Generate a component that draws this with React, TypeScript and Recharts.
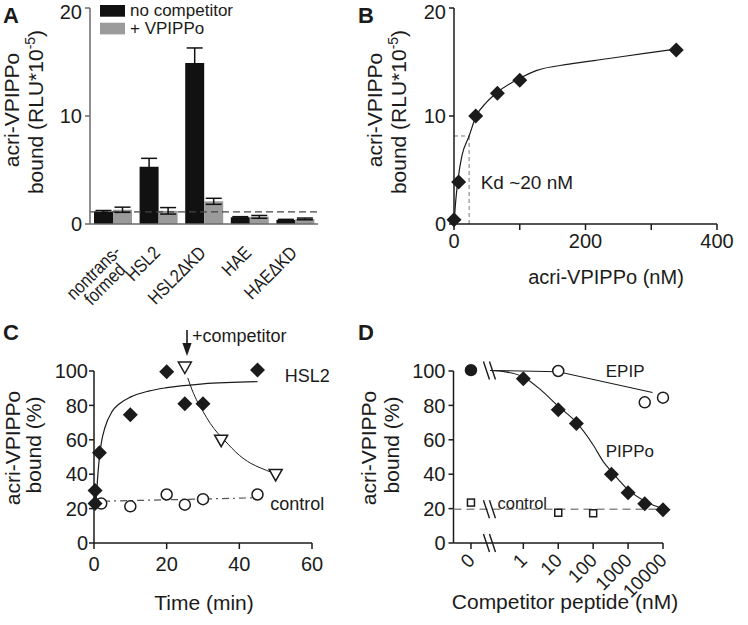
import React from "react";
import {
  Bar,
  BarChart,
  ComposedChart,
  ErrorBar,
  Line,
  ReferenceDot,
  ReferenceLine,
  Scatter,
  XAxis,
  YAxis,
} from "recharts";

const FONT = "'Liberation Sans', Arial, Helvetica, sans-serif";
const INK = "#1b1b1b";
const GREY_AXIS = "#6a6a6a";

// A: acri-VPIPPo bound per cell line (RLU x 10^-5)
const cellLines = ["nontrans-\nformed", "HSL2", "HSL2ΔKD", "HAE", "HAEΔKD"];
const noCompetitor = [1.15, 5.3, 14.9, 0.62, 0.38];
const noCompetitorErr = [0.1, 0.78, 1.4, 0.06, 0.05];
const withVpippo = [1.32, 1.22, 2.1, 0.66, 0.47];
const withVpippoErr = [0.24, 0.3, 0.28, 0.13, 0.08];
const aBackground = 1.12;
const aYTicks = [0, 10, 20];

// B: saturation binding
const bConc = [0, 7, 33, 66, 100, 338];
const bBound = [0.4, 3.9, 10, 12.1, 13.3, 16.1];
const bFitConc = [0, 3, 6.5, 12, 23, 33, 50, 66, 100, 125, 175, 233, 290, 338];
const bFitBound = [0, 2.4, 4.3, 6.3, 8.15, 9.9, 11.3, 12.2, 13.5, 14.2, 14.8, 15.3, 15.8, 16.2];
const bKdConc = 23;
const bKdBound = 8.15;
const bXTicks = [0, 100, 200, 300, 400];
const bXTickLabels = ["0", "", "200", "", "400"];
const bYTicks = [0, 10, 20];

// C: time course (% bound)
const cHslTime = [0.3, 0.3, 1.5, 10, 20, 25, 30, 45];
const cHslBound = [23, 30.5, 52.5, 74.6, 99.6, 81, 81, 100.6];
const cHslFitTime = [0.5, 1, 1.5, 2, 3, 5, 7, 10, 15, 20, 30, 45];
const cHslFitBound = [22, 38, 50, 58, 67, 76.5, 81, 84.8, 88.3, 90.3, 92.5, 93.8];
const cChaseTime = [25, 35, 50];
const cChaseBound = [102, 59.5, 39.6];
const cChaseFitTime = [25.8, 27, 28.5, 30, 32, 34, 36, 38, 40, 43, 46, 49];
const cChaseFitBound = [96, 89, 82, 76.5, 69.5, 64, 59.5, 55, 51, 46.5, 43.5, 41];
const cCtrlTime = [2, 10, 20, 25, 30, 45];
const cCtrlBound = [22.9, 21.3, 28.2, 22.3, 25.5, 28.2];
const cCtrlTrendTime = [2.5, 45];
const cCtrlTrendBound = [24.3, 26.3];
const cXTicks = [0, 20, 40, 60];
const pctTicks = [0, 20, 40, 60, 80, 100];

// D: competition (log concentration axis, 0 drawn left of the break)
const dZeroPos = -1.5;
const dBreakPos = -0.97;
const dTickPos = [-1.5, 0, 1, 2, 3, 4];
const dTickLabels = ["0", "1", "10", "100", "1000", "10000"];
const dNoCompBound = 100.5;
const dPippoConc = [1, 10, 33, 333, 1000, 3000, 10000];
const dPippoBound = [95.5, 77.5, 69.5, 40, 29.2, 22.8, 19.4];
const dPippoFitLog = [-0.95, -0.5, 0, 0.5, 1, 1.5, 2, 2.3, 2.55, 3, 3.5, 4];
const dPippoFitBound = [100.3, 99.5, 96.5, 89, 79.5, 70.5, 57, 47, 41, 31, 24, 20];
const dEpipConc = [10, 3000, 10000];
const dEpipBound = [100, 81.8, 84.5];
const dEpipFitLog = [-0.95, 1, 3.7];
const dEpipFitBound = [100.3, 99.6, 87.5];
const dCtrlConc = [0, 10, 100];
const dCtrlBound = [23.5, 17.6, 17.3];
const dCtrlLevel = 19.6;

const pts = (xs: number[], ys: number[]) => xs.map((x, i) => ({ x, y: ys[i] }));
const dPos = (c: number) => (c === 0 ? dZeroPos : Math.log10(c));

const tickText = { fill: INK, fontSize: 20, fontFamily: FONT };

const Diamond = (p: any) => {
  const r = 7.5;
  return (
    <polygon
      points={`${p.cx},${p.cy - r} ${p.cx + r},${p.cy} ${p.cx},${p.cy + r} ${p.cx - r},${p.cy}`}
      fill={INK}
    />
  );
};
const OpenCircle = (p: any) => (
  <circle cx={p.cx} cy={p.cy} r={5.5} fill="#fff" stroke={INK} strokeWidth={1.5} />
);
const FilledCircle = (p: any) => <circle cx={p.cx} cy={p.cy} r={6.2} fill={INK} />;
const OpenSquare = (p: any) => (
  <rect x={p.cx - 3.5} y={p.cy - 3.5} width={7} height={7} fill="#fff" stroke={INK} strokeWidth={1.5} />
);
const TriangleDown = (p: any) => (
  <polygon
    points={`${p.cx - 6.5},${p.cy - 5.5} ${p.cx + 6.5},${p.cy - 5.5} ${p.cx},${p.cy + 6}`}
    fill="#fff"
    stroke={INK}
    strokeWidth={1.5}
  />
);
const BreakMark = (p: any) => (
  <g stroke={INK} strokeWidth={1.4}>
    <line x1={p.cx - 6} y1={p.cy - 9} x2={p.cx} y2={p.cy + 9} />
    <line x1={p.cx} y1={p.cy - 9} x2={p.cx + 6} y2={p.cy + 9} />
  </g>
);
const note = (text: string, size: number) => (p: any) => (
  <text x={p.cx} y={p.cy} fontSize={size} fontFamily={FONT} fill={INK}>
    {text}
  </text>
);
const CompetitorArrow = (p: any) => (
  <g>
    <line x1={p.cx} y1={p.cy - 25} x2={p.cx} y2={p.cy - 10} stroke={INK} strokeWidth={1.6} />
    <polygon points={`${p.cx - 4.6},${p.cy - 12} ${p.cx + 4.6},${p.cy - 12} ${p.cx},${p.cy + 1}`} fill={INK} />
    <text x={p.cx + 5} y={p.cy - 13} fontSize={18} fontFamily={FONT} fill={INK}>
      +competitor
    </text>
  </g>
);

// rotated, slightly narrowed category labels; "formed" sits under "nontrans-"
const CellTick = (p: any) => {
  const lines = String(p.payload.value).split("\n");
  const x0 = p.x + (lines.length > 1 ? 9 : 3);
  const y0 = p.y + (lines.length > 1 ? 29 : 30);
  return (
    <g>
      {lines.map((l, i) => (
        <text
          key={i}
          transform={`translate(${x0 + i * 5},${y0 + i * 18}) rotate(-45) scale(0.86,1)`}
          textAnchor="end"
          fontSize={18.6}
          fontFamily={FONT}
          fill={INK}
        >
          {l}
        </text>
      ))}
    </g>
  );
};

const ConcTick = (p: any) => (
  <text
    transform={`translate(${p.x + 5},${p.y + 12.5}) rotate(-45)`}
    textAnchor="end"
    fontSize={19}
    fontFamily={FONT}
    fill={INK}
  >
    {dTickLabels[dTickPos.indexOf(p.payload.value)]}
  </text>
);

function PanelA() {
  const rows = cellLines.map((name, i) => ({
    name,
    noComp: noCompetitor[i],
    noCompErr: noCompetitorErr[i],
    vpippo: withVpippo[i],
    vpippoErr: withVpippoErr[i],
  }));
  return (
    <BarChart
      width={374}
      height={326}
      data={rows}
      margin={{ top: 8, right: 56, bottom: 0, left: 0 }}
      barCategoryGap={4}
      barGap={0}
    >
      <XAxis
        dataKey="name"
        height={102}
        interval={0}
        tick={<CellTick />}
        tickLine={false}
        tickSize={0}
        tickMargin={0}
        stroke={GREY_AXIS}
        axisLine={{ strokeWidth: 1.5 }}
      />
      <YAxis
        width={90}
        domain={[0, 20]}
        ticks={aYTicks}
        tick={tickText}
        tickSize={5}
        tickMargin={3}
        stroke={GREY_AXIS}
        axisLine={{ strokeWidth: 1.5 }}
        tickLine={{ strokeWidth: 1.5 }}
      />
      <ReferenceLine y={aBackground} stroke="#444" strokeDasharray="7 4" strokeWidth={1.2} />
      <Bar dataKey="noComp" fill="#111" isAnimationActive={false}>
        <ErrorBar dataKey="noCompErr" width={8} stroke="#111" strokeWidth={1.5} />
      </Bar>
      <Bar dataKey="vpippo" fill="#9b9b9b" isAnimationActive={false}>
        <ErrorBar dataKey="vpippoErr" width={8} stroke="#111" strokeWidth={1.5} />
      </Bar>
    </BarChart>
  );
}

function PanelB() {
  return (
    <ComposedChart width={374} height={310} margin={{ top: 8, right: 31, bottom: 0, left: 0 }}>
      <XAxis
        type="number"
        dataKey="x"
        domain={[0, 400]}
        ticks={bXTicks}
        tickFormatter={(v: number) => bXTickLabels[bXTicks.indexOf(v)]}
        height={86}
        tick={tickText}
        tickSize={6}
        tickMargin={4}
        stroke={INK}
        axisLine={{ strokeWidth: 1.5 }}
        tickLine={{ strokeWidth: 1.5 }}
      />
      <YAxis
        type="number"
        dataKey="y"
        domain={[0, 20]}
        ticks={bYTicks}
        width={80}
        tick={tickText}
        tickSize={5}
        tickMargin={3}
        stroke={INK}
        axisLine={{ strokeWidth: 1.5 }}
        tickLine={{ strokeWidth: 1.5 }}
      />
      <ReferenceLine
        segment={[{ x: 0, y: bKdBound }, { x: bKdConc, y: bKdBound }]}
        stroke="#777"
        strokeDasharray="4 3"
      />
      <ReferenceLine
        segment={[{ x: bKdConc, y: 0 }, { x: bKdConc, y: bKdBound }]}
        stroke="#777"
        strokeDasharray="4 3"
      />
      <Line
        data={pts(bFitConc, bFitBound)}
        dataKey="y"
        type="monotone"
        dot={false}
        stroke={INK}
        strokeWidth={1.2}
        isAnimationActive={false}
      />
      <Scatter data={pts(bConc, bBound)} shape={Diamond} isAnimationActive={false} />
      <ReferenceDot x={40.6} y={3.2} r={0} shape={note("Kd ~20 nM", 19)} />
    </ComposedChart>
  );
}

function PanelC() {
  return (
    <ComposedChart width={374} height={315} margin={{ top: 43.8, right: 62, bottom: 0, left: 0 }}>
      <XAxis
        type="number"
        dataKey="x"
        domain={[0, 60]}
        ticks={cXTicks}
        height={82}
        tick={tickText}
        tickSize={6}
        tickMargin={8}
        stroke={INK}
        axisLine={{ strokeWidth: 1.5 }}
        tickLine={{ strokeWidth: 1.5 }}
      />
      <YAxis
        type="number"
        dataKey="y"
        domain={[0, 110]}
        ticks={pctTicks}
        width={94}
        tick={tickText}
        tickSize={5}
        tickMargin={1}
        stroke={INK}
        axisLine={false}
        tickLine={{ strokeWidth: 1.5 }}
      />
      <ReferenceLine segment={[{ x: 0, y: 0 }, { x: 0, y: 100 }]} stroke={INK} strokeWidth={1.5} />
      <Line
        data={pts(cCtrlTrendTime, cCtrlTrendBound)}
        dataKey="y"
        dot={false}
        stroke="#555"
        strokeWidth={1.2}
        strokeDasharray="7 4 2 4"
        isAnimationActive={false}
      />
      <Line
        data={pts(cHslFitTime, cHslFitBound)}
        dataKey="y"
        type="monotone"
        dot={false}
        stroke={INK}
        strokeWidth={1.2}
        isAnimationActive={false}
      />
      <Line
        data={pts(cChaseFitTime, cChaseFitBound)}
        dataKey="y"
        type="monotone"
        dot={false}
        stroke={INK}
        strokeWidth={1}
        isAnimationActive={false}
      />
      <Scatter data={pts(cCtrlTime, cCtrlBound)} shape={OpenCircle} isAnimationActive={false} />
      <Scatter data={pts(cHslTime, cHslBound)} shape={Diamond} isAnimationActive={false} />
      <Scatter data={pts(cChaseTime, cChaseBound)} shape={TriangleDown} isAnimationActive={false} />
      <ReferenceDot x={25.6} y={109.3} r={0} shape={CompetitorArrow} />
      <ReferenceDot x={52.5} y={93.8} r={0} shape={note("HSL2", 18)} />
      <ReferenceDot x={48.5} y={19.2} r={0} shape={note("control", 18)} />
    </ComposedChart>
  );
}

function PanelD() {
  const pippo = dPippoConc.map((c, i) => ({ x: dPos(c), y: dPippoBound[i] }));
  const epip = dEpipConc.map((c, i) => ({ x: dPos(c), y: dEpipBound[i] }));
  const ctrl = dCtrlConc.map((c, i) => ({ x: dPos(c), y: dCtrlBound[i] }));
  return (
    <ComposedChart width={374} height={315} margin={{ top: 43.8, right: 85, bottom: 0, left: 0 }}>
      <XAxis
        type="number"
        dataKey="x"
        domain={[-2, 4]}
        ticks={dTickPos}
        height={82}
        tick={<ConcTick />}
        tickSize={6}
        tickMargin={0}
        stroke={INK}
        axisLine={{ strokeWidth: 1.5 }}
        tickLine={{ strokeWidth: 1.5 }}
      />
      <YAxis
        type="number"
        dataKey="y"
        domain={[0, 110]}
        ticks={pctTicks}
        width={79.5}
        tick={tickText}
        tickSize={5}
        tickMargin={3}
        stroke={INK}
        axisLine={false}
        tickLine={{ strokeWidth: 1.5 }}
      />
      <ReferenceLine segment={[{ x: -2, y: 0 }, { x: -2, y: 100 }]} stroke={INK} strokeWidth={1.5} />
      <ReferenceLine y={dCtrlLevel} stroke="#8a8a8a" strokeWidth={1.5} strokeDasharray="8 5" />
      <Line
        data={pts(dEpipFitLog, dEpipFitBound)}
        dataKey="y"
        dot={false}
        stroke={INK}
        strokeWidth={1.1}
        isAnimationActive={false}
      />
      <Line
        data={pts(dPippoFitLog, dPippoFitBound)}
        dataKey="y"
        type="monotone"
        dot={false}
        stroke={INK}
        strokeWidth={1.1}
        isAnimationActive={false}
      />
      <Scatter data={ctrl} shape={OpenSquare} isAnimationActive={false} />
      <Scatter data={epip} shape={OpenCircle} isAnimationActive={false} />
      <Scatter data={pippo} shape={Diamond} isAnimationActive={false} />
      <Scatter data={[{ x: dZeroPos, y: dNoCompBound }]} shape={FilledCircle} isAnimationActive={false} />
      <ReferenceDot x={dBreakPos} y={100.3} r={0} shape={BreakMark} />
      <ReferenceDot x={dBreakPos} y={dCtrlLevel} r={0} shape={BreakMark} />
      <ReferenceDot x={dBreakPos} y={0} r={0} shape={BreakMark} />
      <ReferenceDot x={2.36} y={96.7} r={0} shape={note("EPIP", 17)} />
      <ReferenceDot x={2.36} y={50.2} r={0} shape={note("PIPPo", 17)} />
      <ReferenceDot x={-0.74} y={19.8} r={0} shape={note("control", 16.5)} />
    </ComposedChart>
  );
}

const VTitle = ({ x, y, children }: { x: number; y: number; children: React.ReactNode }) => (
  <text
    transform={`translate(${x},${y}) rotate(-90)`}
    textAnchor="middle"
    fontSize={21}
    fontFamily={FONT}
    fill={INK}
  >
    {children}
  </text>
);

const RluTitle = ({ x, y }: { x: number; y: number }) => (
  <VTitle x={x} y={y}>
    bound (RLU*10
    <tspan dy={-8} fontSize={14}>
      -5
    </tspan>
    <tspan dy={8}>)</tspan>
  </VTitle>
);

export default function App() {
  const letter = { fontSize: 22, fontWeight: 700, fontFamily: FONT, fill: INK };
  return (
    <div style={{ position: "absolute", left: 0, top: 0, width: 748, height: 625, background: "#fff" }}>
      <div style={{ position: "absolute", left: 0, top: 310 }}>
        <PanelC />
      </div>
      <div style={{ position: "absolute", left: 374, top: 310 }}>
        <PanelD />
      </div>
      <div style={{ position: "absolute", left: 0, top: 0 }}>
        <PanelA />
      </div>
      <div style={{ position: "absolute", left: 374, top: 0 }}>
        <PanelB />
      </div>
      <svg
        width={748}
        height={625}
        style={{ position: "absolute", left: 0, top: 0, pointerEvents: "none" }}
      >
        <text x={3} y={23} {...letter}>A</text>
        <text x={358} y={23} {...letter}>B</text>
        <text x={3} y={340} {...letter}>C</text>
        <text x={358} y={340} {...letter}>D</text>

        <rect x={100} y={5} width={25} height={11.7} fill="#111" />
        <rect x={100} y={22.7} width={25} height={11.7} fill="#9b9b9b" />
        <text x={130} y={16} fontSize={17} fontFamily={FONT} fill={INK}>no competitor</text>
        <text x={130} y={34} fontSize={17} fontFamily={FONT} fill={INK}>+ VPIPPo</text>

        <VTitle x={19} y={110}>acri-VPIPPo</VTitle>
        <RluTitle x={43} y={112} />
        <VTitle x={382} y={110}>acri-VPIPPo</VTitle>
        <RluTitle x={406} y={112} />
        <VTitle x={20} y={448}>acri-VPIPPo</VTitle>
        <VTitle x={41} y={445}>bound (%)</VTitle>
        <VTitle x={376} y={448}>acri-VPIPPo</VTitle>
        <VTitle x={399} y={445}>bound (%)</VTitle>

        <text x={606} y={284} textAnchor="middle" fontSize={20} fontFamily={FONT} fill={INK}>
          acri-VPIPPo (nM)
        </text>
        <text x={204} y={610} textAnchor="middle" fontSize={21} fontFamily={FONT} fill={INK}>
          Time (min)
        </text>
        <text x={565} y={609} textAnchor="middle" fontSize={21} fontFamily={FONT} fill={INK}>
          Competitor peptide (nM)
        </text>
      </svg>
    </div>
  );
}
